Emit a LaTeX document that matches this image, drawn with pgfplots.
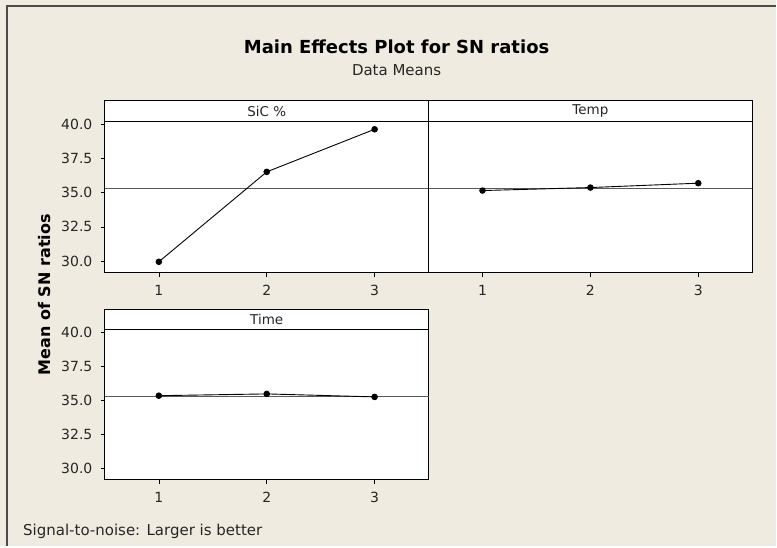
\documentclass[border=0pt]{standalone}
\usepackage{fontspec}
\setmainfont{DejaVu Sans}
\usepackage{pgfplots}
\pgfplotsset{compat=1.18}
\definecolor{bg}{RGB}{239,235,224}
\definecolor{meanline}{RGB}{90,90,90}
\begin{document}
\begin{tikzpicture}
\fill[bg] (0pt,0pt) rectangle (777pt,547pt);
\draw[line width=1.6pt, black!70] (7pt,0pt) -- (7pt,541pt) -- (777pt,541pt);
\pgfplotsset{
 panel/.style={scale only axis, width=324pt, height=172pt,
   xmin=0.5, xmax=3.5, ymin=29.14, ymax=41.73,
   xtick={1,2,3}, ytick={30,32.5,35,37.5,40},
   tick align=outside, major tick length=4pt,
   axis background/.style={fill=white},
   tick style={black, line width=0.6pt},
   axis line style={line width=0.9pt},
   /pgf/number format/assume math mode=true,
   yticklabel style={xshift=-5pt, /pgf/number format/.cd, fixed, fixed zerofill, precision=1},
   xticklabel style={yshift=-5pt},
   ticklabel style={font=\fontsize{14}{16}\selectfont, color=black!85},
   xtick pos=bottom, ytick pos=left, clip=false},
 dataline/.style={black, line width=0.9pt, mark=*, mark size=2.8pt, mark options={fill=black}},
 mline/.style={meanline, line width=0.8pt, forget plot}
}
\def\hdrfont{\fontsize{13.5}{15}\selectfont}
% Panel 1: SiC %
\begin{axis}[panel, at={(105pt,274pt)}, anchor=south west]
\addplot[mline] coordinates {(0.5,35.33) (3.5,35.33)};
\addplot[dataline] coordinates {(1,29.94) (2,36.53) (3,39.65)};
\draw[black, line width=0.9pt] (axis cs:0.5,40.2) -- (axis cs:3.5,40.2);
\node[font=\hdrfont, color=black!85] at (axis cs:2,40.97) {SiC \%};
\end{axis}
% Panel 2: Temp
\begin{axis}[panel, at={(429pt,274pt)}, anchor=south west, ytick=\empty]
\addplot[mline] coordinates {(0.5,35.33) (3.5,35.33)};
\addplot[dataline] coordinates {(1,35.16) (2,35.38) (3,35.70)};
\draw[black, line width=0.9pt] (axis cs:0.5,40.2) -- (axis cs:3.5,40.2);
\node[font=\hdrfont, color=black!85] at (axis cs:2,40.97) {Temp};
\end{axis}
% Panel 3: Time
\begin{axis}[panel, at={(105pt,66.7pt)}, anchor=south west, height=171pt]
\addplot[mline] coordinates {(0.5,35.27) (3.5,35.27)};
\addplot[dataline] coordinates {(1,35.34) (2,35.47) (3,35.25)};
\draw[black, line width=0.9pt] (axis cs:0.5,40.2) -- (axis cs:3.5,40.2);
\node[font=\hdrfont, color=black!85] at (axis cs:2,40.97) {Time};
\end{axis}
\node[font=\bfseries\fontsize{18}{21}\selectfont] at (397pt,500.3pt) {Main Effects Plot for SN ratios};
\node[font=\fontsize{15}{17}\selectfont, color=black!85] at (397pt,477pt) {Data Means};
\node[font=\bfseries\fontsize{16}{18}\selectfont, rotate=90] at (45pt,252pt) {Mean of SN ratios};
\node[font=\fontsize{15}{17}\selectfont, color=black!85, anchor=west, inner sep=0pt] at (23pt,15pt) {Signal-to-noise: Larger is better};
\end{tikzpicture}
\end{document}
